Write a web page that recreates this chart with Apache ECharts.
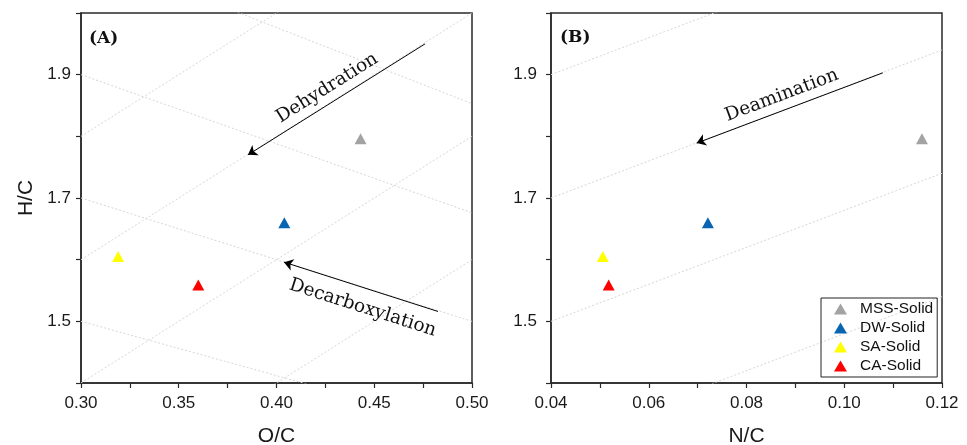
<!DOCTYPE html>
<html><head><meta charset="utf-8">
<script src="https://cdn.jsdelivr.net/npm/echarts@6/dist/echarts.min.js"></script>
<style>html,body{margin:0;padding:0;background:#fff}#c{width:967px;height:445px}</style>
</head><body><div id="c"></div>
<script>
// ---- data ----
const samples = ['MSS-Solid', 'DW-Solid', 'SA-Solid', 'CA-Solid'];
const sampleColors = ['#a3a3a3', '#0865b1', '#ffff00', '#ff0000'];
const hcValues = [1.796, 1.660, 1.605, 1.559];
const ocValues = [0.443, 0.404, 0.319, 0.360];
const ncValues = [0.1159, 0.0721, 0.0506, 0.0518];

const ocTickLabels = ['0.30', '0.35', '0.40', '0.45', '0.50'];
const ncTickLabels = ['0.04', '0.06', '0.08', '0.10', '0.12'];
const hcTickLabels = ['1.5', '1.7', '1.9'];

// reference lines (endpoints in data units, clipped by the axes)
const dehydrationLines = [
  [[0.30, 1.8], [0.50, 2.2]],
  [[0.30, 1.6], [0.50, 2.0]],
  [[0.30, 1.4], [0.50, 1.8]],
  [[0.30, 1.2], [0.50, 1.6]]
];
const decarboxylationLines = [
  [[0.30, 2.1], [0.50, 1.853]],
  [[0.30, 1.9], [0.50, 1.676]],
  [[0.30, 1.7], [0.50, 1.5]],
  [[0.30, 1.5], [0.50, 1.324]]
];
const deaminationLines = [
  [[0.04, 1.9], [0.12, 2.14]],
  [[0.04, 1.7], [0.12, 1.94]],
  [[0.04, 1.5], [0.12, 1.74]],
  [[0.04, 1.3], [0.12, 1.54]]
];

// annotation arrows
const arrowNames = ['Dehydration', 'Decarboxylation', 'Deamination'];
const arrowPanels = [0, 0, 1];
const arrowFrom = [[0.476, 1.950], [0.4826, 1.516], [0.1079, 1.903]];
const arrowTo = [[0.3854, 1.770], [0.4038, 1.596], [0.0698, 1.789]];
const arrowLabelPos = ['insideMiddleTop', 'insideMiddleBottom', 'insideMiddleTop'];
const arrowLabelGap = [5, 10, 5];
const arrowLabelPad = [[0, 4, 0, 0], [0, 0, 0, 16], [0, 6, 0, 0]];

// ---- chart ----
const AX = '#2a2a2a';
const sans = 'Liberation Sans, Arial, sans-serif';
const serif = 'DejaVu Serif, serif';

function xAxis(gi, min, max, step, name, labels) {
  return {
    type: 'value', gridIndex: gi, min: min, max: max, interval: step,
    name: name, nameLocation: 'middle', nameGap: 43,
    nameTextStyle: {fontFamily: sans, fontSize: 21, color: '#1a1a1a'},
    axisLine: {show: true, onZero: false, lineStyle: {color: AX, width: 1.5}},
    axisTick: {show: true, inside: false, length: 5, lineStyle: {color: AX, width: 1.2}},
    axisLabel: {
      margin: 12, fontFamily: sans, fontSize: 17, color: '#1a1a1a',
      formatter: v => labels.includes(v.toFixed(2)) ? v.toFixed(2) : ''
    },
    splitLine: {show: false}
  };
}
function yAxis(gi, name, margin) {
  return {
    type: 'value', gridIndex: gi, min: 1.4, max: 2.0, interval: 0.1,
    name: name, nameLocation: 'middle', nameGap: 44,
    nameTextStyle: {fontFamily: sans, fontSize: 21, color: '#1a1a1a'},
    axisLine: {show: true, onZero: false, lineStyle: {color: AX, width: 1.5}},
    axisTick: {show: true, inside: false, length: 5, lineStyle: {color: AX, width: 1.2}},
    axisLabel: {
      margin: margin, fontFamily: sans, fontSize: 17, color: '#1a1a1a',
      formatter: v => hcTickLabels.includes(v.toFixed(1)) ? v.toFixed(1) : ''
    },
    splitLine: {show: false}
  };
}

const series = [];
function refLines(lines, gi) {
  lines.forEach(seg => {
    series.push({
      type: 'line', xAxisIndex: gi, yAxisIndex: gi, data: seg,
      symbol: 'none', silent: true, clip: true, z: 1,
      lineStyle: {color: '#d6d6d6', width: 1, type: [2, 2]}
    });
  });
}
refLines(dehydrationLines, 0);
refLines(decarboxylationLines, 0);
refLines(deaminationLines, 1);

arrowNames.forEach((nm, i) => {
  const gi = arrowPanels[i];
  series.push({
    type: 'line', xAxisIndex: gi, yAxisIndex: gi, data: [], symbol: 'none', z: 3,
    markLine: {
      silent: true, animation: false,
      symbol: ['none', 'arrow'], symbolSize: 9,
      lineStyle: {color: '#000', width: 1, type: 'solid'},
      label: {
        show: true, position: arrowLabelPos[i], distance: arrowLabelGap[i],
        padding: arrowLabelPad[i],
        formatter: nm, fontFamily: serif, fontSize: 18.5, color: '#111'
      },
      data: [[{coord: arrowFrom[i]}, {coord: arrowTo[i]}]]
    }
  });
});

samples.forEach((s, i) => {
  series.push({
    name: s, type: 'scatter', xAxisIndex: 0, yAxisIndex: 0, z: 5,
    symbol: 'triangle', symbolSize: [12, 11],
    itemStyle: {color: sampleColors[i], opacity: 1},
    data: [[ocValues[i], hcValues[i]]]
  });
  series.push({
    name: s, type: 'scatter', xAxisIndex: 1, yAxisIndex: 1, z: 5,
    symbol: 'triangle', symbolSize: [12, 11],
    itemStyle: {color: sampleColors[i], opacity: 1},
    data: [[ncValues[i], hcValues[i]]]
  });
});

const option = {
  animation: false,
  backgroundColor: '#fff',
  title: [
    {text: '(A)', left: 89, top: 30, padding: 0, textStyle: {fontFamily: serif, fontWeight: 'bold', fontSize: 17, color: '#111'}},
    {text: '(B)', left: 560, top: 29, padding: 0, textStyle: {fontFamily: serif, fontWeight: 'bold', fontSize: 17, color: '#111'}}
  ],
  grid: [
    {left: 81, top: 13, width: 391, height: 370, show: true, borderColor: AX, borderWidth: 1.5, backgroundColor: 'transparent', outerBoundsMode: 'none', containLabel: false},
    {left: 551, top: 13, width: 391, height: 370, show: true, borderColor: AX, borderWidth: 1.5, backgroundColor: 'transparent', outerBoundsMode: 'none', containLabel: false}
  ],
  xAxis: [
    xAxis(0, 0.30, 0.50, 0.025, 'O/C', ocTickLabels),
    xAxis(1, 0.04, 0.12, 0.01, 'N/C', ncTickLabels)
  ],
  yAxis: [yAxis(0, 'H/C', 10), yAxis(1, '', 14)],
  legend: {
    data: samples, orient: 'vertical', left: 821, top: 298,
    icon: 'triangle', itemWidth: 13, itemHeight: 11, itemGap: 3,
    padding: [3, 4, 3, 13], borderColor: '#222', borderWidth: 1, borderRadius: 0,
    textStyle: {fontFamily: sans, fontSize: 15.5, lineHeight: 15, color: '#111', padding: [0, 0, 0, 8]},
    selectedMode: false
  },
  series: series
};
const chart = echarts.init(document.getElementById('c'), null, {renderer: 'canvas'});
chart.setOption(option);
</script></body></html>
